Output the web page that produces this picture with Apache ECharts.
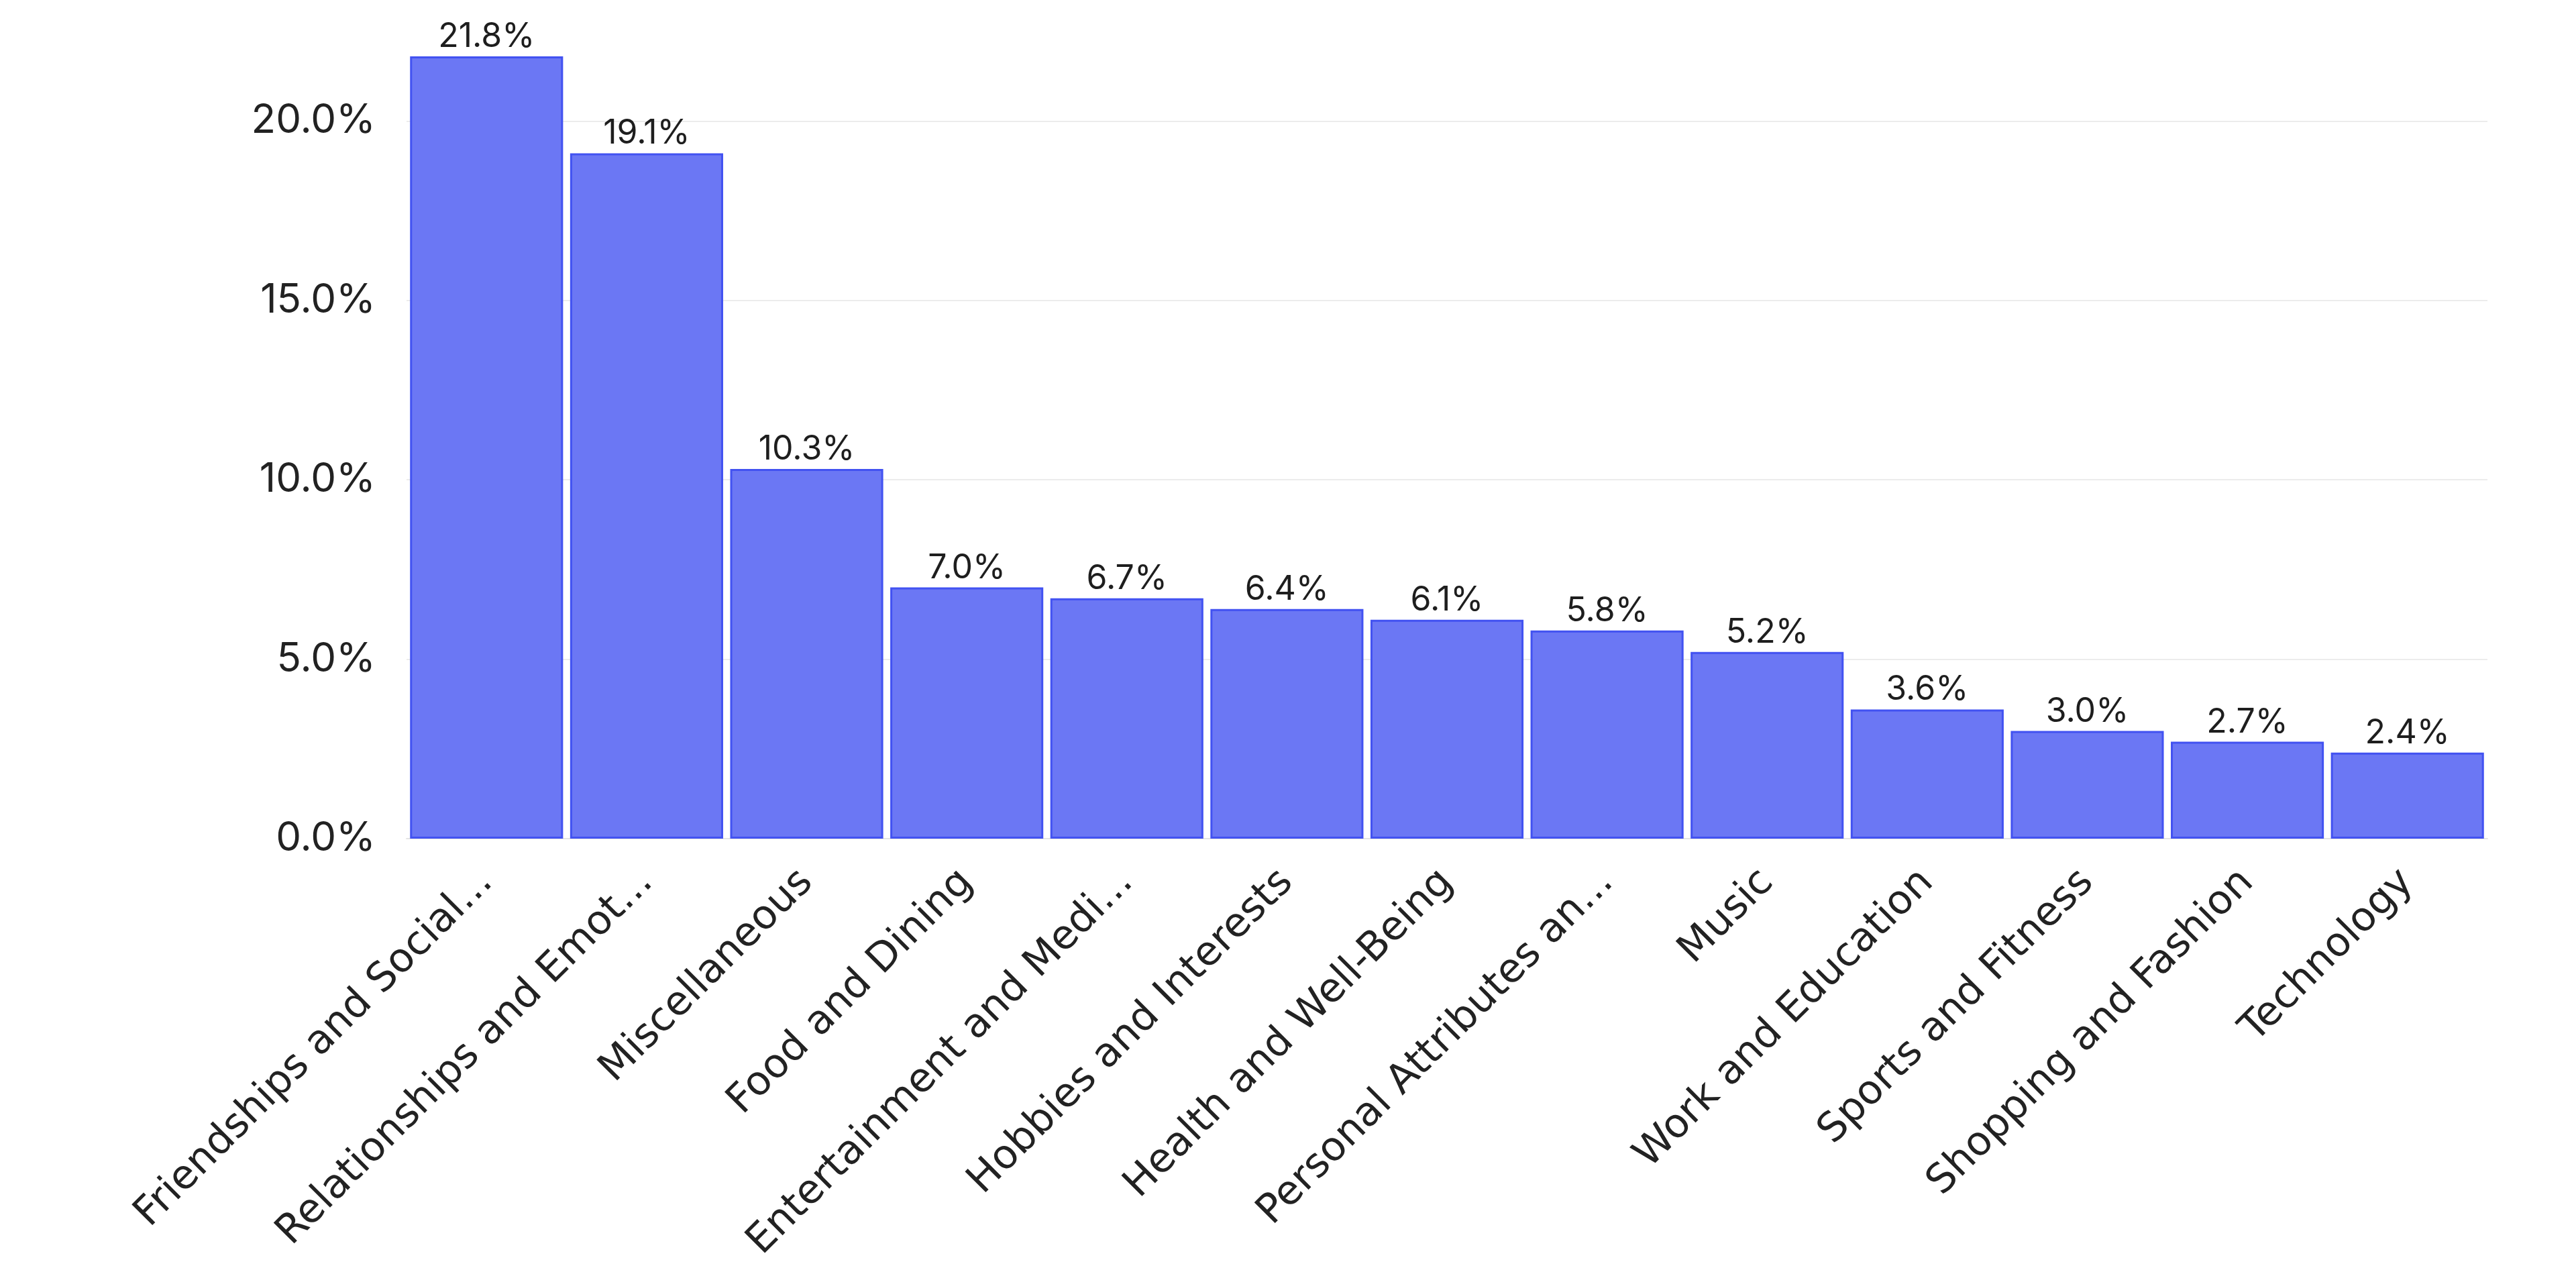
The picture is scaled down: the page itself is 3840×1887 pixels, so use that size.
<!DOCTYPE html>
<html>
<head>
<meta charset="utf-8">
<script src="https://cdn.jsdelivr.net/npm/echarts@6/dist/echarts.min.js"></script>
<style>
  html, body { margin: 0; padding: 0; background: #fff; }
  #chart { width: 3840px; height: 1887px; }
</style>
</head>
<body>
<div id="chart"></div>
<script>
// Topic categories as shown (labels are already truncated in the picture)
const categories = [
  "Friendships and Social...",
  "Relationships and Emot...",
  "Miscellaneous",
  "Food and Dining",
  "Entertainment and Medi...",
  "Hobbies and Interests",
  "Health and Well-Being",
  "Personal Attributes an...",
  "Music",
  "Work and Education",
  "Sports and Fitness",
  "Shopping and Fashion",
  "Technology",
];

// Share of each topic, in percent
const shares = [21.8, 19.1, 10.3, 7.0, 6.7, 6.4, 6.1, 5.8, 5.2, 3.6, 3.0, 2.7, 2.4];

const yStep = 5;

const chart = echarts.init(document.getElementById("chart"), null, { renderer: "canvas" });

chart.setOption({
  animation: false,
  backgroundColor: "#ffffff",
  grid: { left: 606, right: 132, top: 84, bottom: 637, containLabel: false },
  xAxis: {
    type: "category",
    data: categories,
    axisLine: { show: true, lineStyle: { color: "#e4e4e4", width: 2 } },
    axisTick: { show: false },
    axisLabel: {
      rotate: 45,
      interval: 0,
      margin: 56,
      fontFamily: "DejaVu Sans",
      fontSize: 60,
      color: "#222222",
    },
  },
  yAxis: {
    type: "value",
    min: 0,
    max: "dataMax",
    interval: yStep,
    axisLine: { show: false },
    axisTick: { show: false },
    splitLine: { show: true, showMaxLine: false, lineStyle: { color: "#ececec", width: 2 } },
    axisLabel: {
      showMaxLabel: false,
      margin: 46,
      fontFamily: "Inter",
      fontSize: 60,
      color: "#222222",
      formatter: (v) => v.toFixed(1) + "%",
    },
  },
  series: [
    {
      type: "bar",
      data: shares,
      barCategoryGap: "4.4%",
      itemStyle: { color: "#6b77f4", borderColor: "#4252f1", borderWidth: 3 },
      label: {
        show: true,
        position: "top",
        distance: 4,
        fontFamily: "Inter",
        fontSize: 50,
        color: "#1e1e1e",
        formatter: (p) => p.value.toFixed(1) + "%",
      },
    },
  ],
});
</script>
</body>
</html>
